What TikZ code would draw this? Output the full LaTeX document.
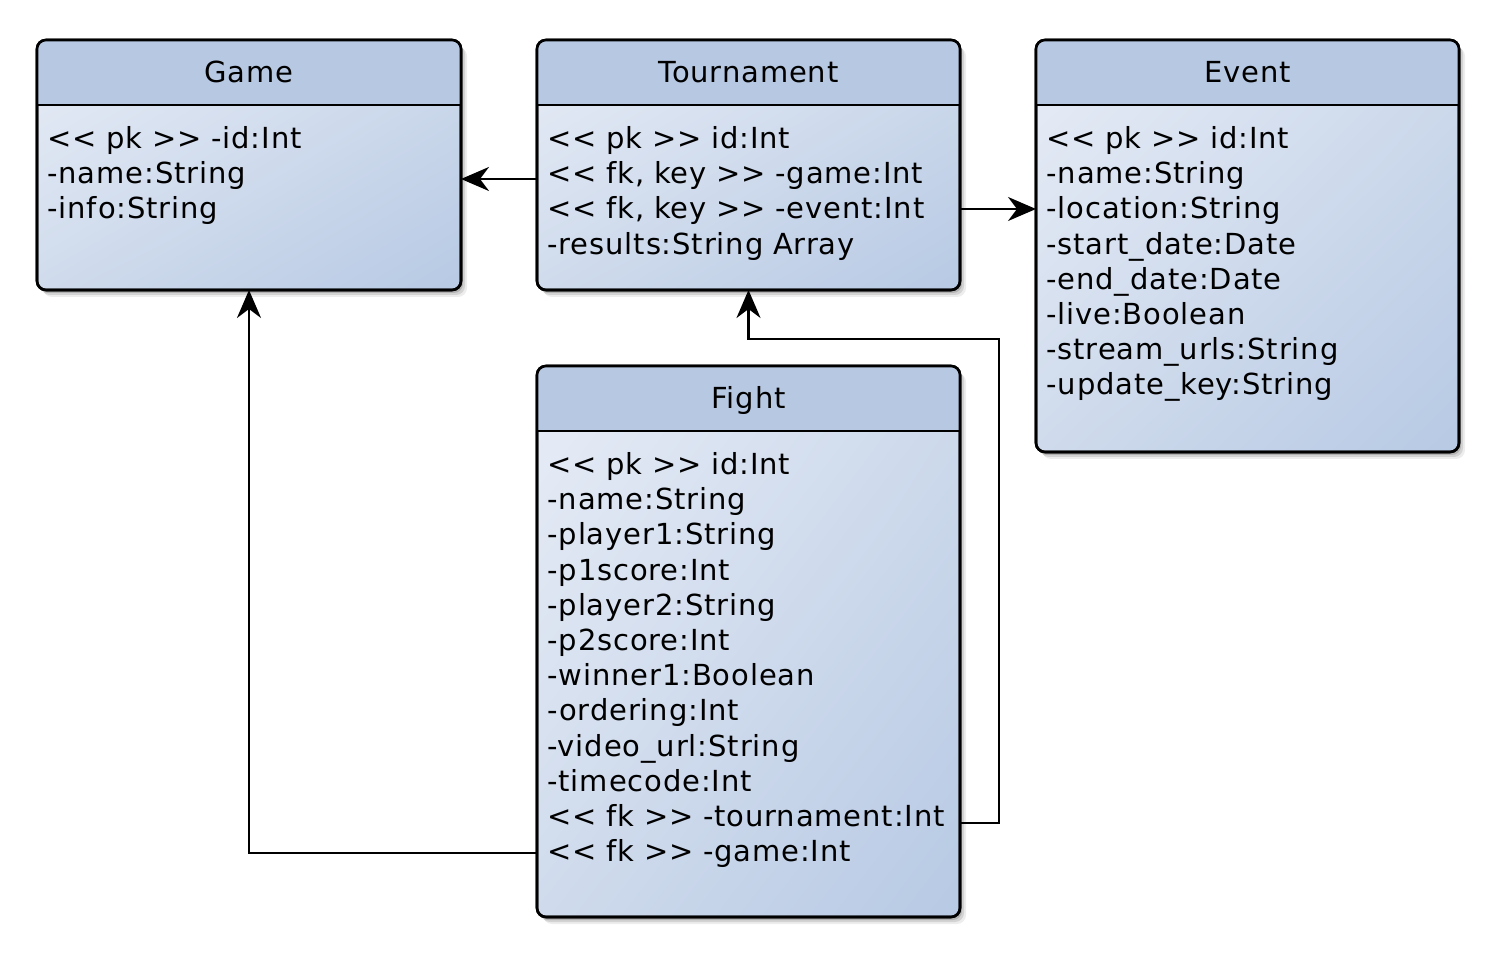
\documentclass[tikz,border=0pt]{standalone}
\usepackage{fontspec}
\newfontfamily\umlfont{DejaVu Sans}[LetterSpace=3]
\usetikzlibrary{arrows.meta,shadows,fit,shadings}
\definecolor{hdr}{RGB}{183,201,226}
\definecolor{lite}{RGB}{232,237,247}
\definecolor{midc}{RGB}{207,219,236}
\definecolor{dark}{RGB}{183,201,228}
\tikzset{
  classbox/.style={draw=black, line width=1.3pt, rounded corners=4.5pt,
    inner sep=0pt, outer sep=0pt,
    upper left=lite, upper right=midc, lower left=midc, lower right=dark,
    drop shadow={shadow xshift=1pt, shadow yshift=-1.5pt, opacity=.15, fill=black},
    drop shadow={shadow xshift=2pt, shadow yshift=-2.5pt, opacity=.11, fill=black},
    drop shadow={shadow xshift=3pt, shadow yshift=-3.5pt, opacity=.07, fill=black}},
  classtitle/.style={anchor=base, inner sep=0pt, font=\umlfont\fontsize{14.5pt}{17.6pt}\selectfont},
  classbody/.style={anchor=base west, inner sep=0pt, text width=205pt, align=left,
    font=\umlfont\fontsize{14.5pt}{17.6pt}\selectfont},
  sepline/.style={line width=1.2pt},
  outline/.style={draw=black, line width=1.3pt, rounded corners=4.5pt},
  conn/.style={line width=1.2pt, -{Stealth[length=14pt, width=12pt, inset=4.5pt]}}
}
\newcommand\classhead[2]{%
  \begin{scope}
    \clip[rounded corners=4.5pt] (#1.north west) rectangle (#1.south east);
    \fill[hdr] (#1.north west) rectangle (#1.east |- 0,#2);
  \end{scope}
  \draw[sepline] (#1.west |- 0,#2) -- (#1.east |- 0,#2);
  \draw[outline] (#1.north west) rectangle (#1.south east);
}
\begin{document}
\begin{tikzpicture}[x=0.5pt, y=-0.5pt]
\useasboundingbox (0,0) rectangle (1500,956);

% Boxes
\node[classbox, fit={(37,40) (461,290)}] (game) {};
\node[classbox, fit={(537,40) (960,290)}] (tour) {};
\node[classbox, fit={(1036,40) (1459,452)}] (event) {};
\node[classbox, fit={(537,366) (960,917)}] (fight) {};

\classhead{game}{105}
\classhead{tour}{105}
\classhead{event}{105}
\classhead{fight}{431}

% Titles
\node[classtitle] (gameT) at (249,82.5) {Game};
\node[classtitle] (tourT) at (748.5,82.5) {Tournament};
\node[classtitle] (eventT) at (1247.5,82.5) {Event};
\node[classtitle] (fightT) at (748.5,408.5) {Fight};

% Bodies
\node[classbody] (gameB) at (47,148.5) {<< pk >> -id:Int\\-name:String\\-info:String};
\node[classbody] (tourB) at (547,148.5) {<< pk >> id:Int\\<< fk, key >> -game:Int\\<< fk, key >> -event:Int\\-results:String Array};
\node[classbody] (eventB) at (1046,148.5) {<< pk >> id:Int\\-name:String\\-location:String\\-start\_date:Date\\-end\_date:Date\\-live:Boolean\\-stream\_urls:String\\-update\_key:String};
\node[classbody] (fightB) at (547,474.5) {<< pk >> id:Int\\-name:String\\-player1:String\\-p1score:Int\\-player2:String\\-p2score:Int\\-winner1:Boolean\\-ordering:Int\\-video\_url:String\\-timecode:Int\\<< fk >> -tournament:Int\\<< fk >> -game:Int};

% Connectors
\draw[conn] (tour.west |- 0,179) -- (game.east |- 0,179);
\draw[conn] (tour.east |- 0,209) -- (event.west |- 0,209);
\draw[conn] (fight.east |- 0,823) -- (999,823) -- (999,339) -| (tour.south);
\draw[conn] (fight.west |- 0,853) -| (game.south);
\end{tikzpicture}
\end{document}
